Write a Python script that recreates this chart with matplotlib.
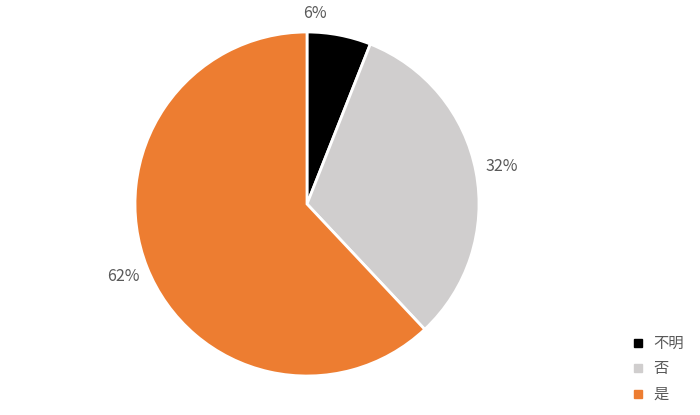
import matplotlib.pyplot as plt
from matplotlib.lines import Line2D

plt.rcParams['font.family'] = ['Noto Sans CJK SC', 'DejaVu Sans']

labels = ['不明', '否', '是']
shares = [6, 32, 62]
colors = ['#000000', '#D0CECE', '#ED7D31']

fig = plt.figure(figsize=(7, 4.15), dpi=100)
# pie centre ~ (307, 204) px, radius ~172 px
ax = fig.add_axes([(307 - 172) / 700, (415 - 204 - 172) / 415, 344 / 700, 344 / 415])
wedges, texts = ax.pie(shares, colors=colors, startangle=90, counterclock=False,
                       radius=1, labels=[f'{v}%' for v in shares], labeldistance=1.15,
                       wedgeprops=dict(edgecolor='white', linewidth=2))
for t in texts:
    t.set_color('#595959')
    t.set_fontsize(11.5)
    t.set_ha('center')
    t.set_va('center')
# Excel nudges the small slice label toward the top
x, y = texts[0].get_position()
texts[0].set_position((x * 0.22, y - 0.02))
ax.set_xlim(-1, 1)
ax.set_ylim(-1, 1)
ax.set_aspect('equal')

handles = [Line2D([], [], marker='s', linestyle='', color=c, markersize=6) for c in colors]
fig.legend(handles, labels, loc='lower left', bbox_to_anchor=(626 / 700, 6 / 415),
           frameon=False, fontsize=11, labelcolor='#595959', handlelength=0.8,
           handletextpad=0.6, labelspacing=0.55, borderaxespad=0)

fig.savefig('out.png', dpi=100)
